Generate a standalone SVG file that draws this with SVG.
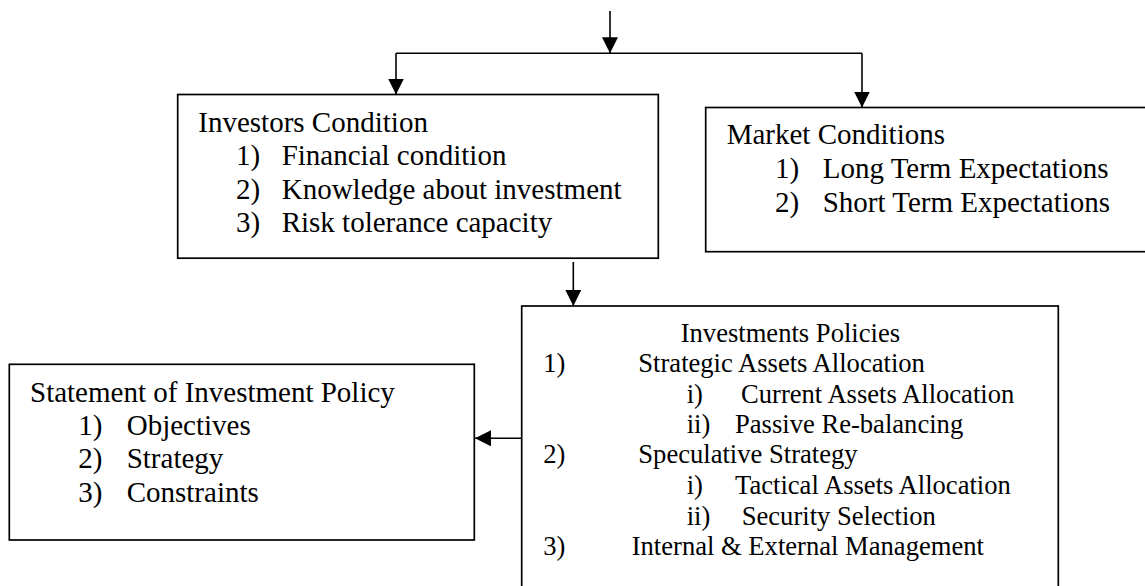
<svg xmlns="http://www.w3.org/2000/svg" width="1145" height="586" viewBox="0 0 1145 586">
<style>
.box{fill:#fff;stroke:#000;stroke-width:1.7}
.t{font-family:"Liberation Serif","Times New Roman",serif;font-size:29px;fill:#000}
.s{font-family:"Liberation Serif","Times New Roman",serif;font-size:26.6px;fill:#000}
.c{fill:none;stroke:#000;stroke-width:1.6}
</style>
<defs>
<marker id="ah" markerUnits="userSpaceOnUse" markerWidth="16" markerHeight="16" viewBox="0 0 16 16" refX="16" refY="8" orient="auto">
<path d="M0,0 L16,8 L0,16 z" fill="#000"/>
</marker>
</defs>
<rect width="1145" height="586" fill="#fff"/>
<g id="connectors">
<line class="c" x1="610" y1="11" x2="610" y2="53.3" marker-end="url(#ah)"/>
<line class="c" x1="396" y1="53.3" x2="862" y2="53.3"/>
<line class="c" x1="396" y1="53.3" x2="396" y2="94.5" marker-end="url(#ah)"/>
<line class="c" x1="862" y1="53.3" x2="862" y2="107.5" marker-end="url(#ah)"/>
<line class="c" x1="573.3" y1="262" x2="573.3" y2="306" marker-end="url(#ah)"/>
<line class="c" x1="521.7" y1="438.3" x2="475" y2="438.3" marker-end="url(#ah)"/>
</g>
<g id="investors">
<rect class="box" x="177.7" y="94.5" width="480.6" height="163.7"/>
<text class="t" x="198.3" y="131.7">Investors Condition</text>
<text class="t" x="236" y="165">1)</text><text class="t" x="281.7" y="165">Financial condition</text>
<text class="t" x="236" y="198.5">2)</text><text class="t" x="281.7" y="198.5">Knowledge about investment</text>
<text class="t" x="236" y="232">3)</text><text class="t" x="281.7" y="232">Risk tolerance capacity</text>
</g>
<g id="market">
<rect class="box" x="705.7" y="107.5" width="445" height="144.2"/>
<text class="t" x="726.7" y="143.5">Market Conditions</text>
<text class="t" x="775" y="178.3">1)</text><text class="t" x="822.7" y="178.3">Long Term Expectations</text>
<text class="t" x="775" y="211.7">2)</text><text class="t" x="822.7" y="211.7">Short Term Expectations</text>
</g>
<g id="statement">
<rect class="box" x="9.3" y="364.3" width="465" height="175.7"/>
<text class="t" x="30" y="401.7">Statement of Investment Policy</text>
<text class="t" x="78.3" y="435">1)</text><text class="t" x="126.7" y="435">Objectives</text>
<text class="t" x="78.3" y="468.3">2)</text><text class="t" x="126.7" y="468.3">Strategy</text>
<text class="t" x="78.3" y="502">3)</text><text class="t" x="126.7" y="502">Constraints</text>
</g>
<g id="policies">
<rect class="box" x="521.7" y="306" width="536.6" height="290"/>
<text class="s" x="680.7" y="341.7">Investments Policies</text>
<text class="s" x="543.3" y="371.7">1)</text><text class="s" x="638.3" y="371.7">Strategic Assets Allocation</text>
<text class="s" x="686.7" y="402.7">i)</text><text class="s" x="741" y="402.7">Current Assets Allocation</text>
<text class="s" x="686.7" y="433.3">ii)</text><text class="s" x="735" y="433.3">Passive Re-balancing</text>
<text class="s" x="543.3" y="463.3">2)</text><text class="s" x="638.3" y="463.3">Speculative Strategy</text>
<text class="s" x="686.7" y="494.3">i)</text><text class="s" x="735" y="494.3">Tactical Assets Allocation</text>
<text class="s" x="686.7" y="525">ii)</text><text class="s" x="741.7" y="525">Security Selection</text>
<text class="s" x="543.3" y="555">3)</text><text class="s" x="631.7" y="555">Internal &amp; External Management</text>
</g>
</svg>
